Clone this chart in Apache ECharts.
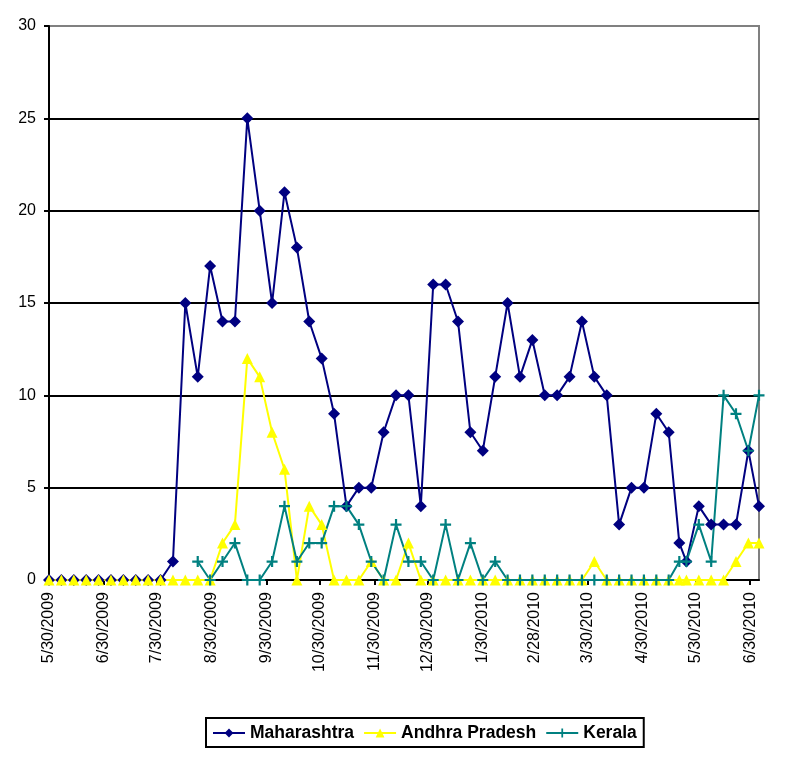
<!DOCTYPE html>
<html>
<head>
<meta charset="utf-8">
<script src="https://cdn.jsdelivr.net/npm/echarts@6/dist/echarts.min.js"></script>
<style>
  html, body { margin: 0; padding: 0; background: #fff; }
  #chart { width: 791px; height: 757px; }
</style>
</head>
<body>
<div id="chart"></div>
<script>
// weekly report dates (last few are irregular)
const dates = [
  '2009-05-30', '2009-06-06', '2009-06-13', '2009-06-20', '2009-06-27',
  '2009-07-04', '2009-07-11', '2009-07-18', '2009-07-25', '2009-08-01',
  '2009-08-08', '2009-08-15', '2009-08-22', '2009-08-29', '2009-09-05',
  '2009-09-12', '2009-09-19', '2009-09-26', '2009-10-03', '2009-10-10',
  '2009-10-17', '2009-10-24', '2009-10-31', '2009-11-07', '2009-11-14',
  '2009-11-21', '2009-11-28', '2009-12-05', '2009-12-12', '2009-12-19',
  '2009-12-26', '2010-01-02', '2010-01-09', '2010-01-16', '2010-01-23',
  '2010-01-30', '2010-02-06', '2010-02-13', '2010-02-20', '2010-02-27',
  '2010-03-06', '2010-03-13', '2010-03-20', '2010-03-27', '2010-04-03',
  '2010-04-10', '2010-04-17', '2010-04-24', '2010-05-01', '2010-05-08',
  '2010-05-15', '2010-05-21', '2010-05-25', '2010-06-01', '2010-06-08',
  '2010-06-15', '2010-06-22', '2010-06-29', '2010-07-05'
];

const maharashtra = [
  0, 0, 0, 0, 0, 0, 0, 0, 0, 0,
  1, 15, 11, 17, 14, 14, 25, 20, 15, 21,
  18, 14, 12, 9, 4, 5, 5, 8, 10, 10,
  4, 16, 16, 14, 8, 7, 11, 15, 11, 13,
  10, 10, 11, 14, 11, 10, 3, 5, 5, 9,
  8, 2, 1, 4, 3, 3, 3, 7, 4
];

const andhraPradesh = [
  0, 0, 0, 0, 0, 0, 0, 0, 0, 0,
  0, 0, 0, 0, 2, 3, 12, 11, 8, 6,
  0, 4, 3, 0, 0, 0, 1, 0, 0, 2,
  0, 0, 0, 0, 0, 0, 0, 0, 0, 0,
  0, 0, 0, 0, 1, 0, 0, 0, 0, 0,
  0, 0, 0, 0, 0, 0, 1, 2, 2
];

// Kerala reporting starts mid-August
const kerala = [
  null, null, null, null, null, null, null, null, null, null,
  null, null, 1, 0, 1, 2, 0, 0, 1, 4,
  1, 2, 2, 4, 4, 3, 1, 0, 3, 1,
  1, 0, 3, 0, 2, 0, 1, 0, 0, 0,
  0, 0, 0, 0, 0, 0, 0, 0, 0, 0,
  0, 1, 1, 3, 1, 10, 9, 7, 10
];

// month tick labels on the date axis
const tickDates = [
  '2009-05-30', '2009-06-30', '2009-07-30', '2009-08-30', '2009-09-30',
  '2009-10-30', '2009-11-30', '2009-12-30', '2010-01-30', '2010-02-28',
  '2010-03-30', '2010-04-30', '2010-05-30', '2010-06-30'
];

const yTicks = [0, 5, 10, 15, 20, 25, 30];

// x axis is "days since the first date", like a spreadsheet date axis
const DAY = 86400000;
function toTime(s) {
  const p = s.split('-').map(Number);
  return Date.UTC(p[0], p[1] - 1, p[2]);
}
const t0 = toTime(dates[0]);
function toDay(s) { return Math.round((toTime(s) - t0) / DAY); }
function dayLabel(v) {
  const d = new Date(t0 + Math.round(v) * DAY);
  return (d.getUTCMonth() + 1) + '/' + d.getUTCDate() + '/' + d.getUTCFullYear();
}

function pairs(values) {
  const out = [];
  values.forEach((v, i) => {
    if (v !== null) out.push([toDay(dates[i]), v]);
  });
  return out;
}

const FONT = "'Liberation Sans', Arial, sans-serif";
const plus = 'path://M4,0 L6,0 L6,4 L10,4 L10,6 L6,6 L6,10 L4,10 L4,6 L0,6 L0,4 L4,4 Z';
const tickDays = tickDates.map(toDay);

const chart = echarts.init(document.getElementById('chart'));

const option = {
  animation: false,
  backgroundColor: '#ffffff',
  textStyle: { fontFamily: FONT },
  grid: {
    left: 49, right: 32, top: 26, bottom: 177,
    containLabel: false,
    show: true,
    borderColor: '#808080',
    borderWidth: 2,
    backgroundColor: 'transparent'
  },
  legend: {
    left: 206,
    top: 718,
    padding: [6, 7, 5, 6],
    itemGap: 9,
    itemWidth: 32,
    itemHeight: 11,
    borderColor: '#000',
    borderWidth: 2,
    textStyle: { fontFamily: FONT, fontSize: 17.5, fontWeight: 'bold', color: '#000' },
    data: ['Maharashtra', 'Andhra Pradesh', 'Kerala']
  },
  xAxis: {
    type: 'value',
    min: 0,
    max: toDay(dates[dates.length - 1]),
    axisLine: { onZero: false, lineStyle: { color: '#000', width: 2 } },
    axisTick: {
      show: true,
      length: 5,
      customValues: tickDays,
      lineStyle: { color: '#000', width: 2 }
    },
    axisLabel: {
      rotate: 90,
      margin: 12,
      fontSize: 16,
      color: '#000',
      fontFamily: FONT,
      customValues: tickDays,
      showMinLabel: true,
      showMaxLabel: true,
      formatter: dayLabel
    },
    splitLine: { show: false }
  },
  yAxis: {
    type: 'value',
    min: yTicks[0],
    max: yTicks[yTicks.length - 1],
    interval: 5,
    axisLine: { show: true, lineStyle: { color: '#000', width: 2 } },
    axisTick: { show: true, length: 5, lineStyle: { color: '#000', width: 2 } },
    axisLabel: { margin: 13, fontSize: 16, color: '#000', fontFamily: FONT },
    splitLine: { show: true, showMaxLine: false, lineStyle: { color: '#000', width: 2 } }
  },
  series: [
    {
      name: 'Maharashtra',
      type: 'line',
      data: pairs(maharashtra),
      symbol: 'diamond',
      symbolSize: 12,
      itemStyle: { color: '#000080' },
      lineStyle: { color: '#000080', width: 2 }
    },
    {
      name: 'Andhra Pradesh',
      type: 'line',
      data: pairs(andhraPradesh),
      symbol: 'triangle',
      symbolSize: 11,
      itemStyle: { color: '#ffff00' },
      lineStyle: { color: '#ffff00', width: 2 }
    },
    {
      name: 'Kerala',
      type: 'line',
      data: pairs(kerala),
      symbol: plus,
      symbolSize: 11,
      itemStyle: { color: '#008080' },
      lineStyle: { color: '#008080', width: 2 }
    }
  ]
};

chart.setOption(option);
</script>
</body>
</html>
